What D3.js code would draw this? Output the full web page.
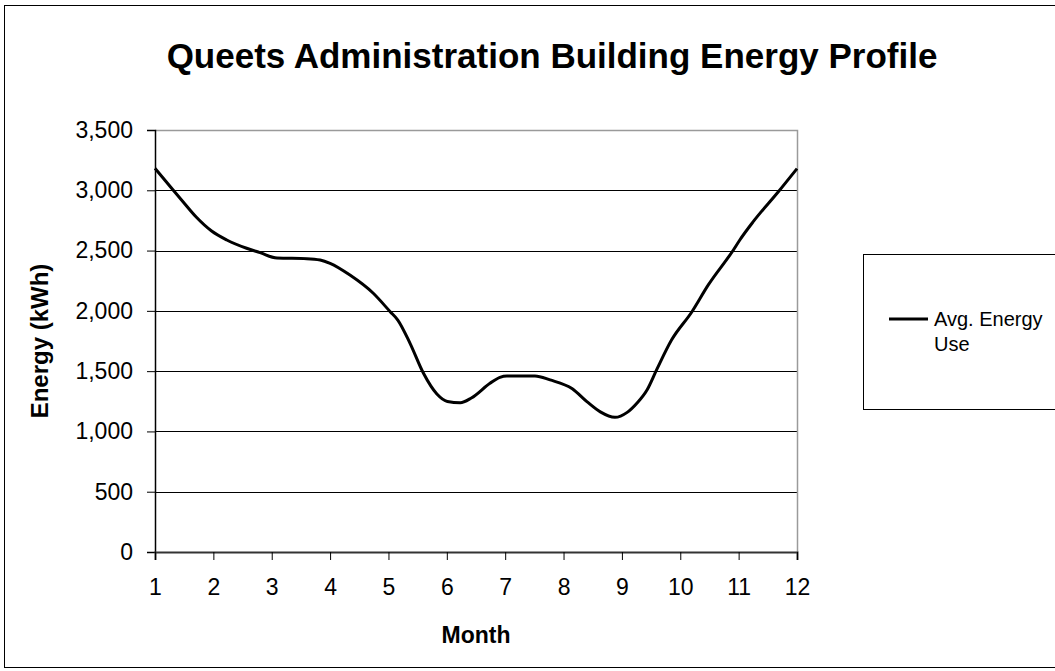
<!DOCTYPE html>
<html>
<head>
<meta charset="utf-8">
<script src="https://cdn.jsdelivr.net/npm/d3@7"></script>
<style>
  html, body { margin: 0; padding: 0; background: #fff; }
  svg { display: block; font-family: "Liberation Sans", Arial, sans-serif; }
</style>
</head>
<body>
<svg id="chart" width="1055" height="671"></svg>
<script>
// ---- data ----
const title = "Queets Administration Building Energy Profile";
const xLabel = "Month";
const yLabel = "Energy (kWh)";
const seriesName = ["Avg. Energy", "Use"];
const monthTicks = [1, 2, 3, 4, 5, 6, 7, 8, 9, 10, 11, 12];
const energyTicks = [0, 500, 1000, 1500, 2000, 2500, 3000, 3500];
const month = [1.00, 1.31, 1.48, 1.71, 1.97, 2.23, 2.57, 2.80, 3.09, 3.60, 3.83, 4.00,
               4.34, 4.74, 5.03, 5.16, 5.37, 5.60, 5.83, 6.01, 6.23, 6.42, 6.74, 6.91,
               7.03, 7.51, 7.77, 8.15, 8.40, 8.63, 8.88, 9.09, 9.26, 9.43, 9.60, 9.85,
               10.20, 10.48, 10.91, 11.02, 11.25, 11.68, 12.00];
const energy = [3182, 3002, 2905, 2776, 2662, 2588, 2519, 2483, 2438, 2433, 2422, 2394,
                2297, 2146, 1993, 1924, 1731, 1482, 1310, 1248, 1238, 1277, 1399, 1449,
                1460, 1460, 1427, 1354, 1247, 1162, 1117, 1158, 1236, 1344, 1517, 1758,
                1993, 2215, 2505, 2588, 2740, 2988, 3180];

const svg = d3.select("#chart");
const plot = { left: 155, right: 797, top: 130, bottom: 552 };

const x = d3.scaleLinear().domain([1, 12]).range([plot.left, plot.right]);
const y = d3.scaleLinear().domain([0, 3500]).range([plot.bottom, plot.top]);

// outer chart frame
svg.append("rect")
  .attr("x", 4.5).attr("y", 5.5).attr("width", 1100).attr("height", 662)
  .attr("fill", "#fff").attr("stroke", "#000").attr("stroke-width", 1);

// title
svg.append("text")
  .attr("x", 552).attr("y", 68)
  .attr("text-anchor", "middle")
  .attr("font-size", 35).attr("font-weight", "bold")
  .text(title);

// gridlines
svg.append("g")
  .selectAll("line")
  .data(energyTicks.filter(d => d > 0 && d < 3500))
  .join("line")
  .attr("x1", plot.left).attr("x2", plot.right)
  .attr("y1", d => Math.round(y(d)) + 0.5).attr("y2", d => Math.round(y(d)) + 0.5)
  .attr("stroke", "#000").attr("stroke-width", 1);

// plot border top/right (gray)
svg.append("path")
  .attr("d", `M${plot.left},${plot.top + 0.5}H${plot.right + 0.5}V${plot.bottom}`)
  .attr("fill", "none").attr("stroke", "#9a9a9a").attr("stroke-width", 1.5);

// y axis
const yAxis = d3.axisLeft(y).tickValues(energyTicks).tickSize(8).tickPadding(14)
  .tickFormat(d3.format(","));
const gy = svg.append("g").attr("transform", `translate(${plot.left},0)`).call(yAxis);
gy.select(".domain").attr("stroke", "#000").attr("stroke-width", 1.5);
gy.selectAll(".tick line").attr("stroke", "#000");
gy.selectAll(".tick text").attr("font-size", 23).attr("fill", "#000")
  .attr("font-family", "Liberation Sans, Arial, sans-serif");

// x axis
const xAxis = d3.axisBottom(x).tickValues(monthTicks).tickSize(8).tickPadding(19)
  .tickFormat(d3.format("d"));
const gx = svg.append("g").attr("transform", `translate(0,${plot.bottom})`).call(xAxis);
gx.select(".domain").attr("stroke", "#333").attr("stroke-width", 2);
gx.selectAll(".tick line").attr("stroke", "#000");
gx.selectAll(".tick text").attr("font-size", 23).attr("fill", "#000")
  .attr("font-family", "Liberation Sans, Arial, sans-serif");

// axis titles
svg.append("text")
  .attr("x", (plot.left + plot.right) / 2).attr("y", 643)
  .attr("text-anchor", "middle").attr("font-size", 23).attr("font-weight", "bold")
  .text(xLabel);
svg.append("text")
  .attr("transform", `translate(48,${(plot.top + plot.bottom) / 2}) rotate(-90)`)
  .attr("text-anchor", "middle").attr("font-size", 24).attr("font-weight", "bold")
  .text(yLabel);

// series line
const pts = month.map((m, i) => [m, energy[i]]);
const line = d3.line().x(d => x(d[0])).y(d => y(d[1])).curve(d3.curveMonotoneX);
svg.append("path")
  .datum(pts)
  .attr("d", line)
  .attr("fill", "none").attr("stroke", "#000").attr("stroke-width", 3)
  .attr("stroke-linejoin", "round");

// legend
svg.append("rect")
  .attr("x", 863.5).attr("y", 254.5).attr("width", 300).attr("height", 155)
  .attr("fill", "#fff").attr("stroke", "#000").attr("stroke-width", 1);
svg.append("line")
  .attr("x1", 889).attr("x2", 928).attr("y1", 319).attr("y2", 319)
  .attr("stroke", "#000").attr("stroke-width", 3);
const lt = svg.append("text").attr("x", 934).attr("y", 326).attr("font-size", 20);
lt.selectAll("tspan").data(seriesName).join("tspan")
  .attr("x", 934).attr("dy", (d, i) => i === 0 ? 0 : 25)
  .text(d => d);
</script>
</body>
</html>
